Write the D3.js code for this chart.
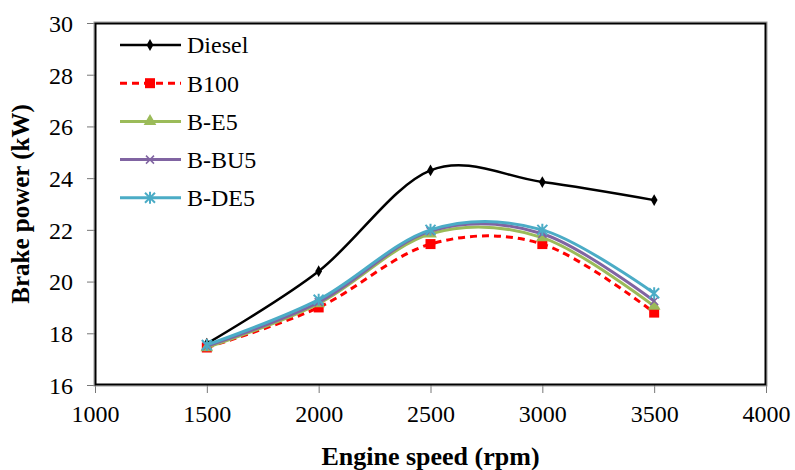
<!DOCTYPE html>
<html>
<head>
<meta charset="utf-8">
<script src="https://cdn.jsdelivr.net/npm/d3@7"></script>
<style>
  body { margin: 0; background: #fff; }
  svg text { font-family: "Liberation Serif", "Times New Roman", serif; fill: #000; }
</style>
</head>
<body>
<div id="chart"></div>
<script>
// Chart data
var speeds = [1500, 2000, 2500, 3000, 3500];
var seriesNames = ["Diesel", "B100", "B-E5", "B-BU5", "B-DE5"];
var diesel = [17.6, 20.4, 24.3, 23.85, 23.15];
var b100 = [17.45, 19.0, 21.45, 21.45, 18.8];
var bE5 = [17.45, 19.15, 21.85, 21.7, 19.05];
var bBU5 = [17.5, 19.2, 21.95, 21.85, 19.25];
var bDE5 = [17.55, 19.3, 22.0, 22.0, 19.55];
var xTicks = [1000, 1500, 2000, 2500, 3000, 3500, 4000];
var yTicks = [16, 18, 20, 22, 24, 26, 28, 30];

var W = 795, H = 470;
var margin = { top: 23, right: 29, bottom: 85, left: 95 },
    width = W - margin.left - margin.right,
    height = H - margin.top - margin.bottom;

var styles = [
    { color: "#000000", dash: null, w: 2.5, marker: "diamond" },
    { color: "#FF0000", dash: "7,5", w: 3, marker: "square" },
    { color: "#9BBB59", dash: null, w: 3, marker: "triangle" },
    { color: "#8064A2", dash: null, w: 3, marker: "x" },
    { color: "#4BACC6", dash: null, w: 3, marker: "star" }
];
var allValues = [diesel, b100, bE5, bBU5, bDE5];

var svg = d3.select('#chart').append('svg')
    .attr('width', W)
    .attr('height', H);

var x = d3.scaleLinear().domain([1000, 4000]).range([0, width]);
var y = d3.scaleLinear().domain([16, 30]).range([height, 0]);

var g = svg.append('g')
    .attr('transform', 'translate(' + margin.left + ',' + margin.top + ')');

// axes
var xAxis = g.append('g')
    .attr('transform', 'translate(0,' + height + ')')
    .call(d3.axisBottom(x).tickValues(xTicks).tickSize(8).tickPadding(7).tickFormat(d3.format('d')));
var yAxis = g.append('g')
    .call(d3.axisLeft(y).tickValues(yTicks).tickSize(8).tickPadding(14));

[xAxis, yAxis].forEach(function(a) {
    a.select('.domain').remove();
    a.selectAll('.tick line').attr('stroke', '#777').attr('stroke-width', 1);
    a.selectAll('.tick text').style('font-size', '24px');
});
xAxis.selectAll('.tick text').attr('dy', '0.9em');
yAxis.selectAll('.tick text').attr('dy', '0.35em');

// frame
g.append('rect')
    .attr('x', -1).attr('y', -1)
    .attr('width', width + 2).attr('height', height + 2)
    .attr('fill', 'none').attr('stroke', '#999').attr('stroke-width', 1);
g.append('rect')
    .attr('x', 0.5).attr('y', 0.5)
    .attr('width', width - 1).attr('height', height - 1)
    .attr('fill', 'none').attr('stroke', '#000').attr('stroke-width', 2);

var line = d3.line()
    .x(function(d) { return x(d[0]); })
    .y(function(d) { return y(d[1]); })
    .curve(d3.curveCatmullRom.alpha(0));

function drawMarker(sel, type, color) {
    if (type === 'diamond') {
        sel.append('path').attr('d', d3.symbol(d3.symbolDiamond, 40)()).attr('fill', color);
    } else if (type === 'square') {
        sel.append('rect').attr('x', -5).attr('y', -5).attr('width', 10).attr('height', 10).attr('fill', color);
    } else if (type === 'triangle') {
        sel.append('path').attr('d', d3.symbol(d3.symbolTriangle, 70)()).attr('fill', color);
    } else if (type === 'x') {
        sel.append('path').attr('d', 'M-4,-4L4,4M-4,4L4,-4').attr('stroke', color).attr('stroke-width', 1.5);
    } else if (type === 'star') {
        sel.append('path').attr('d', 'M-5,-5L5,5M-5,5L5,-5M0,-6L0,6')
            .attr('stroke', color).attr('stroke-width', 2);
    }
}

// series, drawn bottom to top
allValues.forEach(function(vals, i) {
    var s = styles[i];
    var pts = speeds.map(function(sp, j) { return [sp, vals[j]]; });
    var sg = g.append('g');
    sg.append('path')
        .datum(pts)
        .attr('d', line)
        .attr('fill', 'none')
        .attr('stroke', s.color)
        .attr('stroke-width', s.w)
        .attr('stroke-dasharray', s.dash);
    sg.selectAll('.mk')
        .data(pts)
        .enter().append('g')
        .attr('transform', function(d) { return 'translate(' + x(d[0]) + ',' + y(d[1]) + ')'; })
        .each(function() { drawMarker(d3.select(this), s.marker, s.color); });
});

// legend
var legend = svg.append('g').attr('transform', 'translate(120,45)');
seriesNames.forEach(function(name, i) {
    var s = styles[i];
    var row = legend.append('g').attr('transform', 'translate(0,' + (i * 38.2) + ')');
    row.append('line')
        .attr('x1', 0).attr('x2', 61)
        .attr('stroke', s.color).attr('stroke-width', s.w)
        .attr('stroke-dasharray', s.dash);
    var m = row.append('g').attr('transform', 'translate(30,0)');
    drawMarker(m, s.marker, s.color);
    row.append('text')
        .attr('x', 67).attr('dy', '0.35em')
        .style('font-size', '24px')
        .text(name);
});

// axis titles
svg.append('text')
    .attr('x', margin.left + width / 2)
    .attr('y', 465)
    .attr('text-anchor', 'middle')
    .style('font-size', '26px')
    .style('font-weight', 'bold')
    .text('Engine speed (rpm)');

svg.append('text')
    .attr('transform', 'translate(29,' + (margin.top + height / 2) + ') rotate(-90)')
    .attr('text-anchor', 'middle')
    .style('font-size', '25px')
    .style('font-weight', 'bold')
    .text('Brake power (kW)');
</script>
</body>
</html>
